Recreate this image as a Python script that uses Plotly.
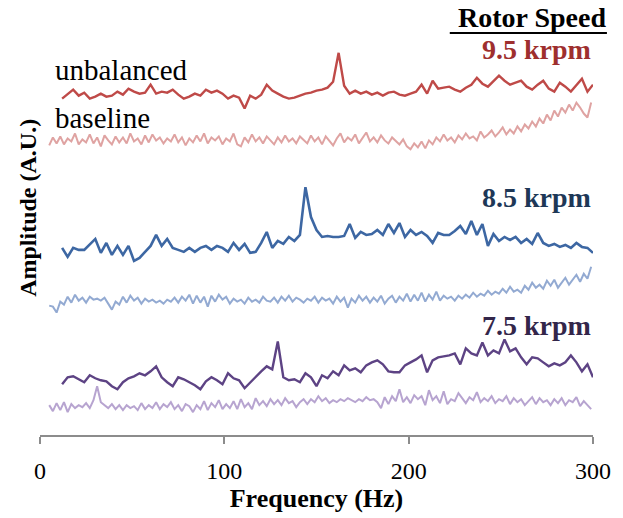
import numpy as np
import plotly.graph_objects as go

# Frequency bins (Hz)
freq_unbal = np.arange(12, 301, 3)
freq_base = np.arange(5, 300, 2)

# 9.5 krpm
unbal_95 = [
    33.8, 34.3, 34.7, 34.1, 34.4, 33.8, 34.0, 34.3, 34.0, 34.1,
    34.5, 34.2, 34.8, 34.5, 34.3, 34.4, 35.2, 34.3, 34.5, 34.4,
    34.7, 34.2, 33.8, 34.0, 34.3, 34.1, 34.7, 34.4, 34.6, 34.3,
    33.8, 34.1, 33.9, 32.8, 34.1, 33.8, 34.2, 35.2, 34.6, 34.3,
    34.0, 33.8, 33.9, 34.1, 34.3, 34.4, 34.6, 34.7, 34.9, 35.5,
    38.4, 35.1, 34.3, 34.6, 34.3, 34.5, 34.2, 34.4, 34.1, 34.4,
    34.5, 34.2, 34.1, 34.3, 34.5, 35.2, 34.3, 35.6, 34.8, 34.9,
    35.0, 34.7, 34.5, 34.9, 35.2, 35.9, 35.3, 35.0, 35.5, 36.1,
    35.6, 35.2, 35.4, 35.6, 35.0, 34.7, 35.2, 35.6, 34.8, 34.5,
    35.4, 35.0, 34.5, 35.2, 35.8, 34.5, 35.2,
]
base_95 = [
    29.1, 29.9, 29.3, 30.0, 29.2, 29.8, 29.5, 30.3, 29.2, 29.7,
    29.4, 30.2, 29.3, 29.9, 29.0, 30.1, 29.6, 29.2, 30.0, 29.4,
    29.9, 29.3, 30.3, 29.5, 29.8, 29.2, 30.1, 29.4, 30.2, 29.6,
    29.9, 29.3, 29.8, 29.5, 30.2, 29.4, 29.9, 29.1, 29.8, 29.4,
    30.1, 29.5, 30.3, 29.3, 29.9, 29.6, 30.0, 29.2, 29.8, 29.5,
    30.3, 29.2, 29.0, 29.9, 29.4, 30.2, 29.5, 29.9, 29.3, 30.0,
    29.6, 29.2, 29.9, 29.4, 30.1, 29.5, 29.8, 29.3, 30.0, 29.6,
    29.3, 30.1, 29.5, 29.9, 29.2, 30.0, 29.6, 29.1, 29.8, 30.3,
    29.4, 29.9, 29.6, 30.2, 29.3, 29.8, 30.4, 29.5, 29.9, 29.4,
    30.1, 29.6, 29.3, 29.9, 29.5, 29.2, 29.7, 29.0, 28.7, 29.3,
    28.9, 29.5, 28.8, 29.6, 29.2, 29.9, 29.5, 30.2, 29.6, 29.9,
    29.4, 30.1, 29.7, 30.3, 29.8, 30.0, 29.6, 30.5, 29.9, 30.2,
    30.6, 30.0, 30.4, 30.9, 30.2, 30.7, 30.3, 31.0, 30.5, 31.2,
    30.8, 31.5, 31.0, 31.8, 31.3, 32.2, 31.6, 32.6, 32.0, 32.9,
    32.4, 33.2, 32.6, 33.4, 32.9, 32.3, 31.9, 33.4,
]

# 8.5 krpm
unbal_85 = [
    18.8, 17.9, 18.8, 18.6, 18.6, 19.2, 19.7, 18.3, 19.3, 18.1,
    19.0, 18.1, 19.0, 17.5, 17.8, 18.4, 19.0, 20.1, 19.0, 19.7,
    18.8, 18.6, 18.4, 18.8, 18.4, 18.8, 19.0, 18.6, 19.0, 18.8,
    18.4, 19.3, 18.6, 19.2, 18.3, 18.4, 19.3, 20.4, 18.8, 19.5,
    19.2, 19.9, 19.5, 20.1, 24.9, 21.9, 20.6, 19.9, 20.0, 19.9,
    19.9, 20.0, 21.2, 19.8, 20.4, 20.1, 20.2, 20.6, 20.1, 21.2,
    20.3, 21.3, 19.9, 20.6, 20.1, 20.4, 20.0, 19.3, 20.3, 20.1,
    20.1, 20.5, 21.0, 20.2, 21.5, 20.1, 21.2, 19.0, 20.2, 19.5,
    19.9, 19.6, 19.9, 19.3, 19.7, 19.2, 20.3, 19.3, 19.0, 19.2,
    18.9, 19.1, 18.8, 19.3, 18.9, 18.8, 18.3,
]
base_85 = [
    13.0, 12.9, 12.3, 13.4, 13.1, 13.9, 13.3, 14.1, 13.5, 13.8,
    13.3, 13.9, 13.6, 13.7, 13.5, 13.8, 13.2, 12.6, 13.4, 13.1,
    13.9, 13.3, 14.0, 13.5, 13.8, 13.2, 13.7, 13.4, 13.6, 13.3,
    13.5, 13.2, 13.6, 13.4, 13.8, 13.3, 13.9, 13.5, 14.1, 13.2,
    14.0, 13.3, 13.9, 12.9, 14.0, 13.4, 14.1, 13.6, 13.9, 13.2,
    13.7, 13.4, 13.6, 13.2, 13.8, 13.4, 13.6, 13.3, 13.9, 13.5,
    13.4, 13.8, 13.3, 13.9, 13.5, 14.0, 13.4, 13.8, 13.6, 13.3,
    13.7, 13.5, 13.9, 13.3, 13.8, 13.5, 13.7, 13.2, 13.9, 13.4,
    13.8, 12.8, 13.7, 13.3, 14.0, 13.5, 13.9, 13.3, 13.8, 13.4,
    14.0, 13.2, 13.7, 14.0, 13.3, 13.9, 13.5, 14.2, 13.4, 14.1,
    13.5, 14.3, 13.4, 14.1, 13.6, 14.4, 13.5, 14.0, 13.7, 13.9,
    13.5, 14.0, 13.7, 14.1, 13.8, 14.3, 13.9, 14.2, 14.0, 14.5,
    14.1, 14.4, 14.2, 14.7, 14.3, 14.9, 14.4, 14.6, 14.3, 15.0,
    14.6, 15.3, 14.8, 15.1, 14.7, 15.5, 15.0, 15.6, 14.8, 15.3,
    15.8, 15.1, 15.6, 16.1, 15.4, 16.2, 15.7, 16.9,
]

# 7.5 krpm
unbal_75 = [
    5.1, 5.8, 5.9, 5.6, 5.3, 6.0, 5.7, 5.5, 5.4, 4.9,
    4.6, 5.3, 5.7, 5.9, 6.2, 6.0, 6.4, 6.9, 5.8, 5.3,
    4.9, 5.8, 5.6, 5.3, 5.0, 4.6, 5.4, 5.8, 5.5, 5.1,
    6.2, 5.7, 5.5, 4.7, 5.3, 5.8, 6.4, 6.9, 6.6, 9.4,
    5.8, 5.5, 5.6, 5.3, 6.2, 5.8, 4.9, 6.0, 5.7, 6.4,
    6.0, 7.0, 6.5, 6.7, 6.3, 7.0, 7.3, 7.5, 7.1, 6.4,
    6.3, 6.3, 7.0, 7.3, 7.6, 8.0, 6.3, 7.5, 7.8, 7.9,
    8.0, 8.2, 7.1, 8.7, 8.2, 8.0, 9.3, 8.0, 8.5, 8.2,
    9.6, 8.4, 8.7, 7.8, 7.1, 7.8, 7.7, 7.3, 6.9, 7.2,
    7.0, 7.3, 8.0, 7.3, 6.4, 7.1, 5.8,
]
base_75 = [
    3.0, 2.4, 3.2, 2.5, 3.3, 2.3, 3.1, 2.7, 3.0, 2.8,
    3.2, 2.7, 3.5, 4.9, 3.3, 3.0, 2.7, 3.1, 2.6, 3.0,
    2.5, 3.0, 2.7, 2.9, 2.5, 3.2, 2.6, 3.0, 2.7, 3.3,
    2.6, 3.1, 2.8, 3.3, 2.6, 3.0, 2.4, 3.1, 2.9, 2.3,
    3.0, 2.6, 3.4, 2.5, 3.2, 2.8, 3.5, 2.6, 3.1, 2.7,
    3.4, 2.6, 3.6, 2.8, 3.2, 2.6, 3.7, 3.0, 3.4, 2.9,
    3.6, 3.1, 3.5, 3.0, 3.7, 3.2, 3.4, 2.8, 3.3, 3.6,
    3.1, 3.6, 3.3, 3.9, 3.4, 3.7, 3.2, 3.5, 3.3, 3.6,
    3.4, 3.7, 3.5, 3.3, 3.6, 3.4, 3.8, 3.5, 3.6, 3.3,
    2.7, 3.8, 3.1, 3.9, 3.4, 4.6, 3.3, 3.8, 3.2, 4.0,
    3.6, 3.9, 3.0, 4.5, 3.5, 3.9, 3.2, 4.4, 3.1, 3.6,
    3.4, 4.2, 3.7, 3.2, 3.8, 3.5, 4.3, 3.3, 3.7, 3.4,
    3.9, 3.2, 3.6, 3.4, 3.9, 3.1, 3.7, 3.3, 3.6, 3.0,
    3.4, 3.8, 3.1, 3.7, 3.3, 3.5, 3.0, 3.6, 3.2, 3.7,
    3.0, 3.5, 3.3, 3.8, 2.9, 3.4, 3.0, 2.6,
]

x_ticks = [0, 100, 200, 300]

SERIF = "Liberation Serif"

traces = [
    (freq_base, base_95, "#DFA3A2", 2.0),
    (freq_unbal, unbal_95, "#BF4A48", 2.4),
    (freq_base, base_85, "#93AAD2", 2.0),
    (freq_unbal, unbal_85, "#3D67A3", 2.6),
    (freq_base, base_75, "#B7A4D0", 2.0),
    (freq_unbal, unbal_75, "#5D4384", 2.4),
]

fig = go.Figure()
for x, y, color, width in traces:
    fig.add_trace(go.Scatter(
        x=x, y=y, mode="lines",
        line=dict(color=color, width=width),
        showlegend=False, hoverinfo="skip",
    ))

annotations = [
    dict(x=7, y=36.7, text="unbalanced", xanchor="left", yanchor="middle",
         font=dict(family=SERIF, size=29, color="black"), showarrow=False),
    dict(x=7, y=31.9, text="baseline", xanchor="left", yanchor="middle",
         font=dict(family=SERIF, size=29, color="black"), showarrow=False),
    dict(x=300, y=38.7, text="<b>9.5 krpm</b>", xanchor="right", yanchor="middle",
         font=dict(family=SERIF, size=28, color="#9E2F2E"), showarrow=False),
    dict(x=300, y=23.9, text="<b>8.5 krpm</b>", xanchor="right", yanchor="middle",
         font=dict(family=SERIF, size=28, color="#1E3857"), showarrow=False),
    dict(x=300, y=11.0, text="<b>7.5 krpm</b>", xanchor="right", yanchor="middle",
         font=dict(family=SERIF, size=28, color="#33264A"), showarrow=False),
    dict(xref="paper", yref="paper", x=1.027, y=1.006, text="<b>Rotor Speed</b>",
         xanchor="right", yanchor="middle",
         font=dict(family=SERIF, size=28, color="black"), showarrow=False),
    dict(xref="paper", yref="paper", x=-0.022, y=0.547, text="<b>Amplitude (A.U.)</b>",
         textangle=-90, xanchor="center", yanchor="middle",
         font=dict(family=SERIF, size=24, color="black"), showarrow=False),
]

fig.update_layout(
    width=623, height=518,
    margin=dict(l=40, r=27, t=20, b=81),
    paper_bgcolor="white", plot_bgcolor="white",
    annotations=annotations,
    shapes=[dict(type="line", xref="paper", yref="paper",
                 x0=(452 - 40) / 556, x1=(610 - 40) / 556,
                 y0=(437 - 33) / 417, y1=(437 - 33) / 417,
                 line=dict(color="black", width=2))],
    xaxis=dict(
        range=[0, 300], tickvals=x_ticks, ticktext=[str(t) for t in x_ticks],
        showgrid=False, zeroline=False,
        showline=True, linecolor="#8C8C8C", linewidth=1.5,
        ticks="outside", ticklen=7, tickcolor="#8C8C8C", tickwidth=1.5,
        ticklabelstandoff=6,
        tickfont=dict(family=SERIF, size=24, color="black"),
        title=dict(text="<b>Frequency (Hz)</b>", standoff=4,
                   font=dict(family=SERIF, size=26, color="black")),
    ),
    yaxis=dict(
        range=[0, 41.7], showgrid=False, zeroline=False, showline=False,
        showticklabels=False, ticks="",
    ),
)

fig.write_html("out.html")
